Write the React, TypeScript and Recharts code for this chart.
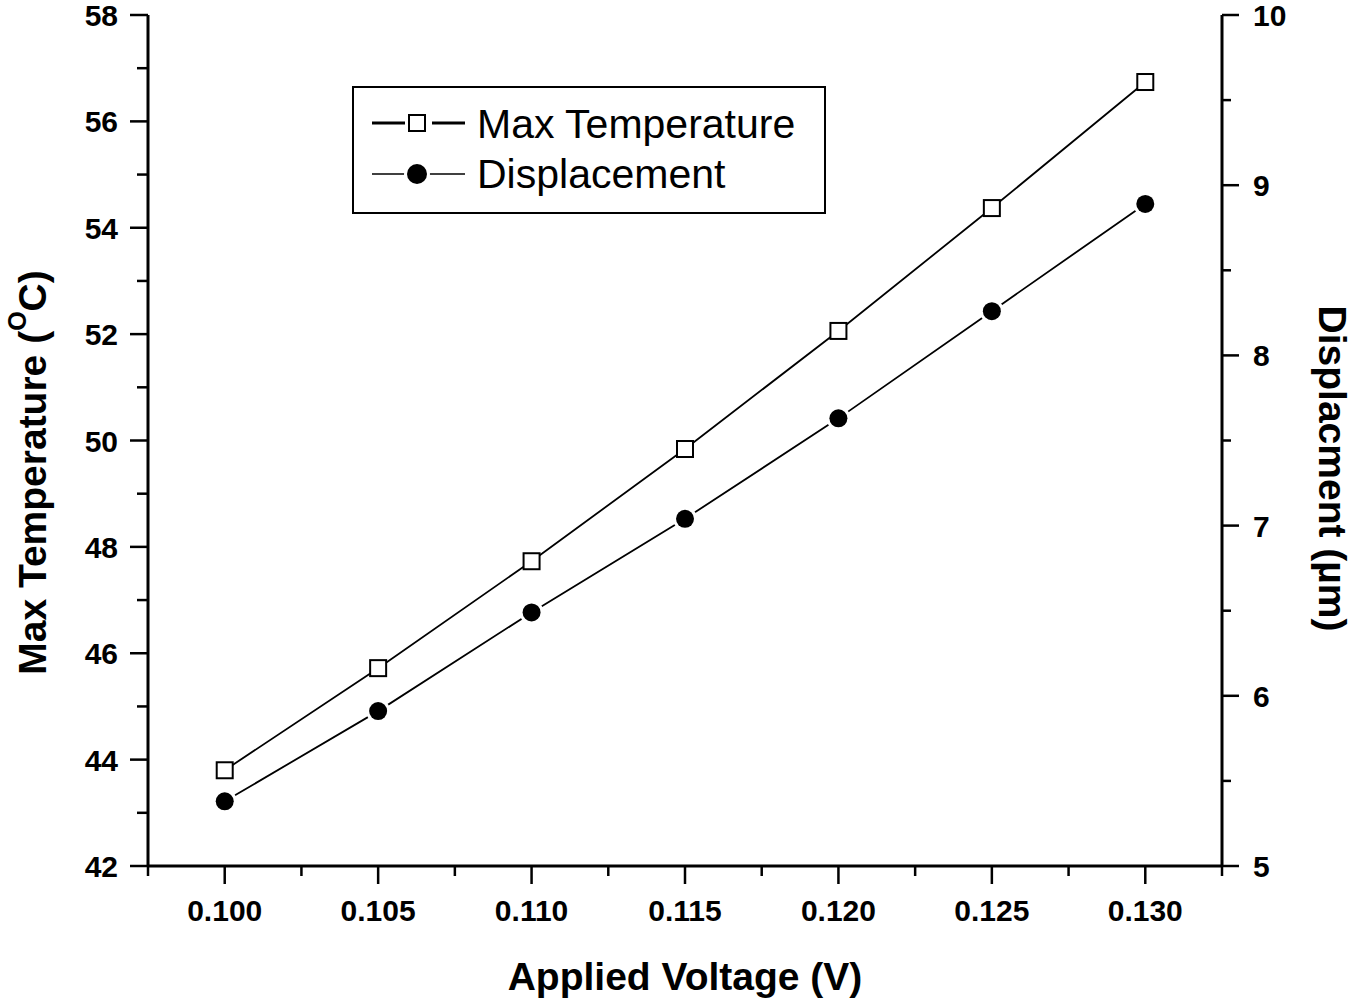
import { LineChart, Line, XAxis, YAxis, Legend, Label } from 'recharts';

// values
const voltage = [0.1, 0.105, 0.11, 0.115, 0.12, 0.125, 0.13];
const maxTemperature = [43.8, 45.72, 47.73, 49.84, 52.06, 54.37, 56.74];
const displacement = [5.38, 5.91, 6.49, 7.04, 7.63, 8.26, 8.89];

const xTicks = [0.0975, 0.1, 0.1025, 0.105, 0.1075, 0.11, 0.1125, 0.115, 0.1175, 0.12, 0.1225, 0.125, 0.1275, 0.13, 0.1325];
const xMajor = [0.1, 0.105, 0.11, 0.115, 0.12, 0.125, 0.13];
const tempTicks = [42, 43, 44, 45, 46, 47, 48, 49, 50, 51, 52, 53, 54, 55, 56, 57, 58];
const tempMajor = [42, 44, 46, 48, 50, 52, 54, 56, 58];
const dispTicks = [5, 5.5, 6, 6.5, 7, 7.5, 8, 8.5, 9, 9.5, 10];
const dispMajor = [5, 6, 7, 8, 9, 10];

const FONT = 'Arial, "Liberation Sans", sans-serif';

const chartData = voltage.map((v, i) => ({
  voltage: v,
  maxTemperature: maxTemperature[i],
  displacement: displacement[i],
}));

const isMajor = (v: number, list: number[]) => list.some(m => Math.abs(m - v) < 1e-6);

const XTick = ({ x, y, payload }: any) => {
  const major = isMajor(payload.value, xMajor);
  return (
    <g>
      <line x1={x} x2={x} y1={y} y2={y + (major ? 18 : 10)} stroke="#000" strokeWidth={2.5} />
      {major && (
        <text x={x} y={y + 55} textAnchor="middle" fontSize={30} fontWeight="bold" fontFamily={FONT} fill="#000">
          {payload.value.toFixed(3)}
        </text>
      )}
    </g>
  );
};

const LeftTick = ({ x, y, payload }: any) => {
  const major = isMajor(payload.value, tempMajor);
  return (
    <g>
      <line x1={x} x2={x - (major ? 18 : 11)} y1={y} y2={y} stroke="#000" strokeWidth={2.5} />
      {major && (
        <text x={x - 30} y={y + 11} textAnchor="end" fontSize={30} fontWeight="bold" fontFamily={FONT} fill="#000">
          {payload.value}
        </text>
      )}
    </g>
  );
};

const RightTick = ({ x, y, payload }: any) => {
  const major = isMajor(payload.value, dispMajor);
  return (
    <g>
      <line x1={x} x2={x + (major ? 17 : 9)} y1={y} y2={y} stroke="#000" strokeWidth={2.5} />
      {major && (
        <text x={x + 31} y={y + 11} textAnchor="start" fontSize={30} fontWeight="bold" fontFamily={FONT} fill="#000">
          {payload.value}
        </text>
      )}
    </g>
  );
};

const SquareDot = ({ cx, cy, index }: any) => (
  <rect key={`sq-${index}`} x={cx - 8} y={cy - 8} width={16} height={16} fill="#fff" stroke="#000" strokeWidth={2} />
);

const CircleDot = ({ cx, cy, index }: any) => (
  <g key={`ci-${index}`}>
    <circle cx={cx} cy={cy} r={12} fill="#fff" />
    <circle cx={cx} cy={cy} r={9} fill="#000" />
  </g>
);

const LegendBox = () => (
  <svg width={474} height={128}>
    <rect x={1} y={1} width={472} height={126} fill="#fff" stroke="#000" strokeWidth={2} />
    <line x1={20} x2={53} y1={37} y2={37} stroke="#000" strokeWidth={3} />
    <line x1={80} x2={113} y1={37} y2={37} stroke="#000" strokeWidth={3} />
    <rect x={57} y={29} width={16} height={16} fill="#fff" stroke="#000" strokeWidth={2} />
    <text x={125} y={52} fontSize={41} fontFamily={FONT}>
      Max Temperature
    </text>
    <line x1={20} x2={113} y1={88} y2={88} stroke="#000" strokeWidth={1.5} />
    <circle cx={65} cy={88} r={13} fill="#fff" />
    <circle cx={65} cy={88} r={10} fill="#000" />
    <text x={125} y={102} fontSize={41} fontFamily={FONT}>
      Displacement
    </text>
  </svg>
);

export default function App() {
  return (
    <div style={{ position: 'absolute', left: 0, top: 0, width: 1352, height: 1000, background: '#fff' }}>
      <LineChart width={1352} height={1000} data={chartData} margin={{ top: 15, right: 0, bottom: 0, left: 0 }}>
        <XAxis
          dataKey="voltage"
          type="number"
          domain={[0.0975, 0.1325]}
          ticks={xTicks}
          interval={0}
          height={134}
          tickSize={0}
          tickMargin={0}
          tickLine={false}
          axisLine={{ stroke: '#000', strokeWidth: 3 }}
          tick={<XTick />}
        >
          <Label
            content={({ viewBox }: any) => (
              <text x={viewBox.x + viewBox.width / 2} y={viewBox.y + 124} textAnchor="middle" fontSize={39} fontWeight="bold" fontFamily={FONT}>
                Applied Voltage (V)
              </text>
            )}
          />
        </XAxis>
        <YAxis
          yAxisId="temp"
          orientation="left"
          domain={[42, 58]}
          ticks={tempTicks}
          interval={0}
          width={148}
          tickSize={0}
          tickMargin={0}
          tickLine={false}
          axisLine={{ stroke: '#000', strokeWidth: 3 }}
          tick={<LeftTick />}
        >
          <Label
            content={({ viewBox }: any) => {
              const cx = viewBox.x + 32;
              const cy = viewBox.y + viewBox.height / 2 + 32;
              return (
                <text x={cx} y={cy} transform={`rotate(-90 ${cx} ${cy})`} textAnchor="middle" dominantBaseline="central" fontSize={39} fontWeight="bold" fontFamily={FONT}>
                  Max Temperature (<tspan fontSize={25} dy={-15}>O</tspan><tspan dy={15}>C)</tspan>
                </text>
              );
            }}
          />
        </YAxis>
        <YAxis
          yAxisId="disp"
          orientation="right"
          domain={[5, 10]}
          ticks={dispTicks}
          interval={0}
          width={130}
          tickSize={0}
          tickMargin={0}
          tickLine={false}
          axisLine={{ stroke: '#000', strokeWidth: 3 }}
          tick={<RightTick />}
        >
          <Label
            content={({ viewBox }: any) => {
              const cx = viewBox.x + 110;
              const cy = viewBox.y + viewBox.height / 2 + 28;
              return (
                <text x={cx} y={cy} transform={`rotate(90 ${cx} ${cy})`} textAnchor="middle" dominantBaseline="central" fontSize={39} fontWeight="bold" fontFamily={FONT}>
                  Displacment (µm)
                </text>
              );
            }}
          />
        </YAxis>
        <Legend
          layout="horizontal"
          verticalAlign="middle"
          align="center"
          content={<LegendBox />}
          wrapperStyle={{ position: 'absolute', left: 352, top: 86, width: 474, height: 128 }}
        />
        <Line
          yAxisId="temp"
          dataKey="maxTemperature"
          name="Max Temperature"
          type="linear"
          stroke="#000"
          strokeWidth={1.8}
          dot={SquareDot}
          activeDot={false}
          isAnimationActive={false}
        />
        <Line
          yAxisId="disp"
          dataKey="displacement"
          name="Displacement"
          type="linear"
          stroke="#000"
          strokeWidth={1.8}
          dot={CircleDot}
          activeDot={false}
          isAnimationActive={false}
        />
      </LineChart>
    </div>
  );
}
